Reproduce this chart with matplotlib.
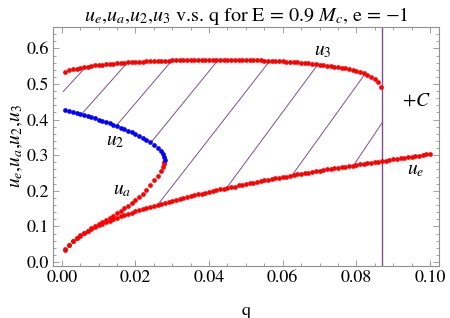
import numpy as np
import matplotlib
matplotlib.use("Agg")
import matplotlib.pyplot as plt
from matplotlib.ticker import MultipleLocator

plt.rcParams['mathtext.fontset'] = 'stix'
plt.rcParams['font.family'] = ['STIXGeneral', 'DejaVu Serif']

# ---------------- data ----------------
q_e = [round(0.001 * k, 3) for k in range(1, 101)]
u_e = [0.035, 0.048, 0.058, 0.067, 0.074, 0.081, 0.087, 0.092, 0.098, 0.103,
       0.107, 0.112, 0.116, 0.120, 0.124, 0.128, 0.132, 0.135, 0.139, 0.142,
       0.145, 0.149, 0.152, 0.155, 0.158, 0.161, 0.164, 0.167, 0.169, 0.172,
       0.175, 0.177, 0.180, 0.182, 0.185, 0.187, 0.190, 0.192, 0.195, 0.197,
       0.199, 0.202, 0.204, 0.206, 0.208, 0.210, 0.212, 0.215, 0.217, 0.219,
       0.221, 0.223, 0.225, 0.227, 0.229, 0.231, 0.233, 0.235, 0.236, 0.238,
       0.240, 0.242, 0.244, 0.246, 0.248, 0.249, 0.251, 0.253, 0.255, 0.256,
       0.258, 0.260, 0.261, 0.263, 0.265, 0.266, 0.268, 0.270, 0.271, 0.273,
       0.274, 0.276, 0.278, 0.279, 0.281, 0.282, 0.284, 0.285, 0.287, 0.288,
       0.290, 0.291, 0.293, 0.294, 0.296, 0.297, 0.299, 0.300, 0.302, 0.303]

q_3 = [round(0.001 * k, 3) for k in range(1, 87)] + [0.0867]
u_3 = [0.535, 0.5385, 0.541, 0.5435, 0.5455, 0.5475, 0.549, 0.5505, 0.552, 0.553,
       0.5545, 0.5555, 0.5565, 0.5575, 0.5585, 0.5592, 0.560, 0.5607, 0.5614, 0.562,
       0.5626, 0.5631, 0.5636, 0.564, 0.5645, 0.5649, 0.5652, 0.5656, 0.5659, 0.5662,
       0.5665, 0.5667, 0.5669, 0.5671, 0.5673, 0.5674, 0.5676, 0.5677, 0.5678, 0.5678,
       0.5679, 0.5679, 0.5679, 0.5679, 0.5678, 0.5677, 0.5676, 0.5675, 0.5673, 0.5671,
       0.5669, 0.5666, 0.5663, 0.566, 0.5656, 0.5652, 0.5647, 0.5642, 0.5637, 0.5635,
       0.5628, 0.562, 0.5612, 0.5604, 0.5595, 0.5586, 0.5576, 0.5566, 0.5555, 0.5544,
       0.5532, 0.5519, 0.5505, 0.549, 0.5474, 0.5456, 0.5436, 0.5414, 0.5395, 0.537,
       0.534, 0.530, 0.5255, 0.520, 0.5135, 0.5055, 0.491]

q_2 = [round(0.001 * k, 3) for k in range(1, 28)] + [0.0275, 0.0278, 0.0279]
u_2 = [0.426, 0.4237, 0.4213, 0.4188, 0.4163, 0.4136, 0.4108, 0.4079, 0.4048, 0.400,
       0.3965, 0.393, 0.3893, 0.3855, 0.3815, 0.3773, 0.373, 0.3685, 0.3638, 0.359,
       0.3538, 0.3483, 0.3424, 0.336, 0.329, 0.321, 0.311, 0.303, 0.295, 0.286]

q_a = [round(0.001 * k, 3) for k in range(1, 28)] + [0.0274, 0.0277, 0.0278]
u_a = [0.036, 0.0485, 0.0585, 0.067, 0.0745, 0.0815, 0.088, 0.0945, 0.1005, 0.1065,
       0.1125, 0.1185, 0.1245, 0.1305, 0.137, 0.1435, 0.1505, 0.158, 0.1655, 0.1735,
       0.182, 0.1915, 0.2025, 0.2155, 0.230, 0.2425, 0.2565, 0.268, 0.2755, 0.2805]

q_c = 0.0870

# hatch lines: (q, u) at lower end and upper end
hatch_q0 = [0.0004, 0.0054, 0.0149, 0.0244, 0.0260, 0.0450, 0.0624, 0.0792]
hatch_u0 = [0.479, 0.4157, 0.384, 0.338, 0.160, 0.2115, 0.2416, 0.271]
hatch_q1 = [0.0066, 0.0179, 0.0299, 0.0425, 0.0565, 0.0697, 0.0824, 0.0870]
hatch_u1 = [0.5486, 0.5610, 0.5662, 0.5679, 0.5652, 0.5572, 0.5290, 0.391]

# ---------------- figure ----------------
fig = plt.figure(figsize=(4.5, 3.18), dpi=100)
ax = fig.add_axes([0.118, 0.1635, 0.8576, 0.7515])

hatch_color = '#7d4f8c'
for a0, b0, a1, b1 in zip(hatch_q0, hatch_u0, hatch_q1, hatch_u1):
    ax.plot([a0, a1], [b0, b1], color=hatch_color, lw=0.7, zorder=1)
ax.axvline(q_c, color=hatch_color, lw=1.0, zorder=1)

ms = 3.4
ax.plot(q_e, u_e, 'o', color='#ff0000', ms=ms, mew=0, zorder=3)
ax.plot(q_3, u_3, 'o', color='#ff0000', ms=ms, mew=0, zorder=3)
ax.plot(q_a, u_a, 'o', color='#ff0000', ms=ms, mew=0, zorder=3)
ax.plot(q_2, u_2, 'o', color='#0000ff', ms=ms, mew=0, zorder=3)

lab_fs = 14
ax.text(0.0709, 0.592, r'$u_3$', fontsize=lab_fs, ha='center', va='center')
ax.text(0.0145, 0.340, r'$u_2$', fontsize=lab_fs, ha='center', va='center')
ax.text(0.0164, 0.200, r'$u_a$', fontsize=lab_fs, ha='center', va='center')
ax.text(0.0962, 0.256, r'$u_e$', fontsize=lab_fs, ha='center', va='center')
ax.text(0.0962, 0.452, r'$+C$', fontsize=lab_fs, ha='center', va='center')

ax.set_xlim(-0.00236, 0.10245)
ax.set_ylim(-0.0112, 0.660)

ax.xaxis.set_major_locator(MultipleLocator(0.02))
ax.xaxis.set_minor_locator(MultipleLocator(0.005))
ax.yaxis.set_major_locator(MultipleLocator(0.1))
ax.yaxis.set_minor_locator(MultipleLocator(0.02))
ax.xaxis.set_major_formatter(matplotlib.ticker.FormatStrFormatter('%.2f'))
ax.yaxis.set_major_formatter(matplotlib.ticker.FormatStrFormatter('%.1f'))

frame_c = '#909090'
for s in ax.spines.values():
    s.set_color(frame_c)
    s.set_linewidth(0.8)
ax.tick_params(which='both', direction='in', top=True, right=True, color=frame_c,
               labelsize=13, labelcolor='black', width=0.6)
ax.tick_params(which='major', length=4.5, pad=3)
ax.tick_params(which='minor', length=2.5)

ax.set_xlabel('q', fontsize=13, labelpad=12)
ax.set_ylabel(r'$u_e$,$u_a$,$u_2$,$u_3$', fontsize=14, labelpad=1)
ax.set_title(r'$u_e$,$u_a$,$u_2$,$u_3$ v.s. q for E = 0.9 $M_c$, e = −1',
             fontsize=14.5, pad=1)

fig.savefig('out.png', dpi=100)
